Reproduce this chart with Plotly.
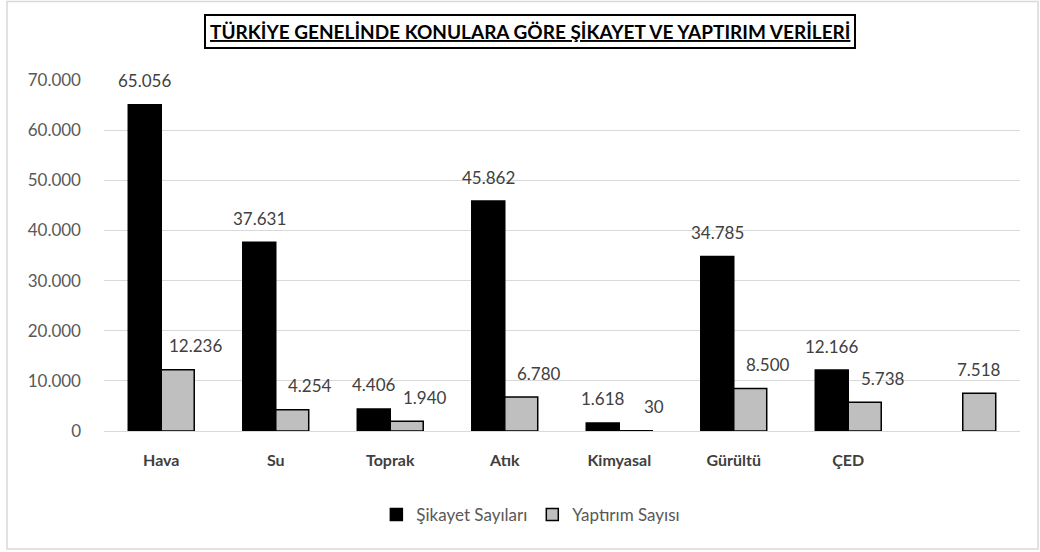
import plotly.graph_objects as go

# Data
categories = ["Hava", "Su", "Toprak", "Atık", "Kimyasal", "Gürültü", "ÇED", " "]
sikayet = [65056, 37631, 4406, 45862, 1618, 34785, 12166, None]
yaptirim = [12236, 4254, 1940, 6780, 30, 8500, 5738, 7518]
y_ticks = [0, 10000, 20000, 30000, 40000, 50000, 60000, 70000]

font_family = "Lato, 'Open Sans', sans-serif"


def fmt(v):
    return f"{v:,}".replace(",", ".")


fig = go.Figure()

fig.add_trace(go.Bar(
    x=categories, y=sikayet, name="Şikayet Sayıları",
    marker=dict(color="black", line=dict(color="black", width=1.5)),
))
fig.add_trace(go.Bar(
    x=categories, y=yaptirim, name="Yaptırım Sayısı",
    marker=dict(color="#bfbfbf", line=dict(color="black", width=1.5)),
))

# data labels (Excel style, gray labels nudged right when next to a black bar)
half_bar = 16.5
for cat, s, y in zip(categories, sikayet, yaptirim):
    if s is not None:
        fig.add_annotation(x=cat, y=s, text=fmt(s), showarrow=False,
                           xshift=-half_bar, yshift=24, yanchor="middle",
                           font=dict(size=17, color="#404040"))
    nudge = 18 if s is not None else 0
    fig.add_annotation(x=cat, y=y, text=fmt(y), showarrow=False,
                       xshift=half_bar + nudge, yshift=24, yanchor="middle",
                       font=dict(size=17, color="#404040"))

fig.update_layout(
    width=1040, height=552,
    margin=dict(l=104, r=20, t=80, b=121, autoexpand=False),
    paper_bgcolor="white", plot_bgcolor="white",
    separators=",.",
    barmode="group", bargap=0.424, bargroupgap=0,
    font=dict(family=font_family, color="#595959"),
    showlegend=True,
    legend=dict(orientation="h", x=0.466, xanchor="center", y=-0.239, yanchor="middle",
                font=dict(size=17, color="#595959"),
                traceorder="normal"),
)

fig.update_yaxes(
    range=[0, 70000], tickvals=y_ticks, tickformat=",",
    showgrid=True, gridcolor="#d9d9d9", gridwidth=1,
    zeroline=False, showline=False,
    tickfont=dict(size=17, color="#595959"), ticks="", ticklabelstandoff=22,
)
fig.update_xaxes(
    showline=True, linecolor="#d9d9d9", linewidth=1,
    tickfont=dict(size=16, color="#404040", weight="bold"),
    ticks="", ticklabelstandoff=15,
)

# Title box
fig.add_annotation(
    text="<b><u>TÜRKİYE GENELİNDE KONULARA GÖRE ŞİKAYET VE YAPTIRIM VERİLERİ</u></b>",
    xref="paper", yref="paper", x=0.465, y=1.137, xanchor="center", yanchor="middle",
    showarrow=False, font=dict(size=19, color="black", family=font_family),
    bordercolor="black", borderwidth=2, borderpad=4, bgcolor="white",
)

# Chart border
fig.add_shape(type="rect", xref="paper", yref="paper",
              x0=-0.1059, x1=1.0197, y0=-0.3362, y1=1.2237,
              line=dict(color="#d9d9d9", width=1.5), layer="above")

fig.write_html("out.html", config={"displayModeBar": False},
               post_script="document.body.style.margin='0';document.body.style.overflow='hidden';")
